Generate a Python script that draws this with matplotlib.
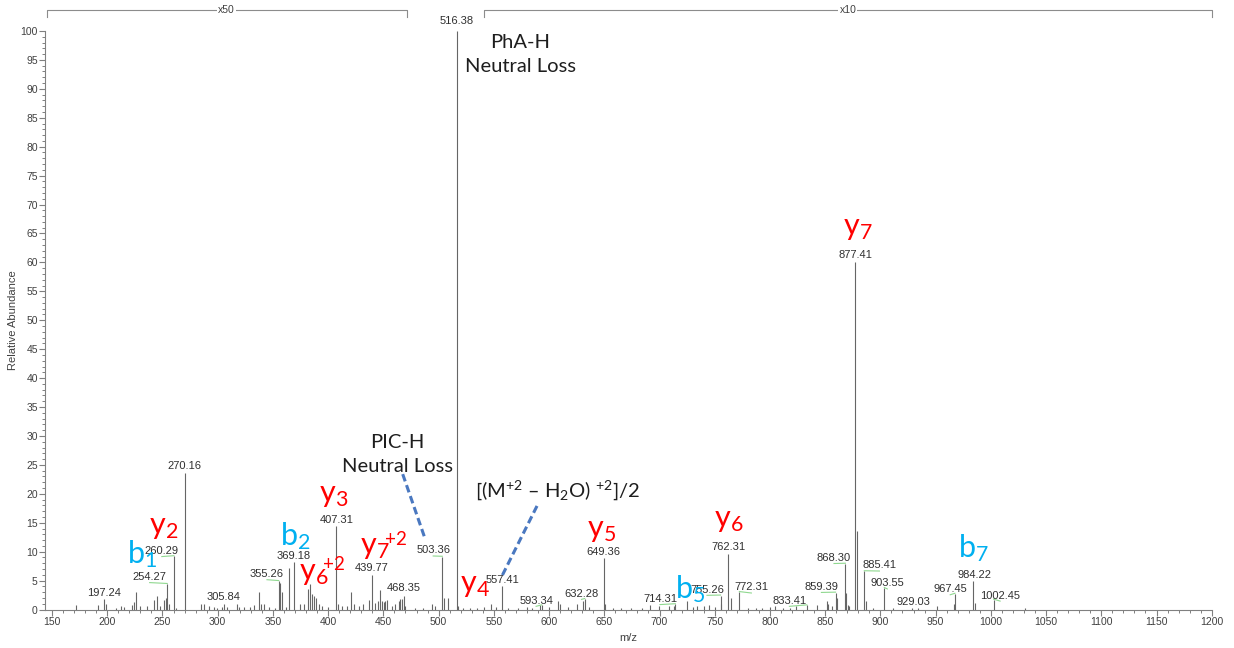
import matplotlib
matplotlib.use('Agg')
import matplotlib.pyplot as plt
import matplotlib.transforms as mtransforms
from matplotlib.ticker import MultipleLocator

# ---------------- data ----------------
peak_mz = [171.9, 191.5, 197.24, 199.3, 207.5, 212.0, 215.6, 222.0, 224.0, 226.2,
           230.0, 236.0, 242.0, 244.6, 248.0, 251.8, 253.0, 254.27, 255.7, 260.29,
           261.8, 270.16, 285.0, 287.4, 292.0, 296.4, 299.5, 304.0, 305.84, 308.5,
           317.6, 319.0, 323.6, 329.6, 332.6, 337.2, 339.6, 341.7, 346.0, 352.0,
           355.26, 356.8, 358.0, 362.0, 365.0, 369.18, 374.9, 378.5, 381.5, 383.3,
           385.5, 387.0, 389.4, 391.5, 394.5, 400.0, 407.31, 408.7, 412.6, 417.0,
           421.0, 423.0, 427.6, 432.0, 436.7, 439.77, 442.8, 445.2, 446.7, 448.8,
           450.3, 451.8, 453.4, 457.9, 460.9, 463.9, 465.4, 466.9, 468.35, 470.0,
           479.0, 486.0, 494.0, 497.0, 503.36, 504.6, 508.2, 516.38, 517.6, 522.0,
           528.0, 535.0, 541.0, 547.7, 552.0, 557.41, 563.0, 572.0, 580.0, 585.0,
           592.0, 593.34, 600.0, 608.0, 610.0, 617.0, 625.3, 630.7, 632.28, 636.0,
           649.36, 650.9, 658.0, 665.0, 674.0, 684.0, 691.6, 699.2, 708.2, 712.7,
           714.31, 724.9, 730.0, 734.0, 740.0, 744.4, 750.0, 755.26, 756.0, 762.31,
           764.7, 772.31, 780.0, 787.0, 793.0, 800.0, 804.8, 812.0, 818.0, 824.0,
           833.41, 842.5, 851.5, 853.0, 856.0, 859.39, 861.1, 868.30, 869.0, 871.0,
           872.0, 877.41, 878.41, 885.41, 887.1, 893.0, 903.55, 911.0, 929.03, 934.0,
           951.0, 966.6, 967.45, 984.22, 985.5, 1002.45, 1031.0]
peak_int = [0.8, 0.7, 1.8, 0.9, 0.3, 0.6, 0.4, 0.7, 1.3, 3.0,
            0.6, 0.6, 1.6, 2.3, 0.6, 1.7, 2.0, 4.4, 0.9, 9.2,
            0.3, 23.6, 0.9, 0.9, 0.6, 0.4, 0.3, 0.4, 0.9, 0.4,
            1.0, 0.5, 0.5, 0.5, 0.8, 3.0, 0.9, 0.9, 0.4, 0.3,
            4.9, 4.6, 3.1, 0.5, 7.2, 8.2, 0.9, 1.0, 3.6, 4.4,
            2.6, 2.4, 2.0, 0.9, 0.6, 0.4, 14.5, 0.9, 0.6, 0.6,
            3.0, 0.9, 0.6, 0.9, 1.6, 5.9, 1.2, 1.4, 3.3, 1.4,
            1.3, 1.4, 1.6, 0.6, 1.0, 1.5, 1.8, 1.8, 2.4, 0.6,
            0.3, 0.3, 0.9, 0.6, 9.1, 2.0, 2.0, 100.0, 0.6, 0.3,
            0.3, 0.3, 0.4, 0.9, 0.4, 4.0, 0.3, 0.3, 0.4, 0.3,
            0.8, 0.7, 0.4, 1.4, 0.9, 0.4, 1.0, 1.4, 1.8, 0.4,
            8.9, 0.9, 0.3, 0.3, 0.3, 0.3, 0.8, 0.6, 0.6, 0.6,
            0.9, 1.4, 0.4, 0.6, 0.6, 0.8, 0.4, 2.4, 0.9, 9.6,
            2.0, 3.0, 0.3, 0.3, 0.3, 0.4, 0.6, 0.3, 0.3, 0.6,
            0.7, 0.8, 1.4, 0.9, 0.6, 2.9, 2.0, 7.9, 2.9, 0.8,
            0.6, 60.0, 13.6, 6.6, 1.5, 0.3, 3.7, 0.3, 0.3, 0.3,
            0.6, 1.0, 2.7, 4.9, 1.2, 1.7, 0.3]

labeled_mz = [197.24, 254.27, 260.29, 270.16, 305.84, 355.26, 369.18, 407.31,
              439.77, 468.35, 503.36, 516.38, 557.41, 593.34, 632.28, 649.36,
              714.31, 755.26, 762.31, 772.31, 833.41, 859.39, 868.30, 877.41,
              885.41, 903.55, 929.03, 967.45, 984.22, 1002.45]

ion_letters = ['b', 'y', 'b', 'y', 'y', 'y', 'y', 'y', 'b', 'y', 'y', 'b']
ion_numbers = ['1', '2', '2', '6', '3', '7', '4', '5', '5', '6', '7', '7']
ion_charges = ['', '', '', '+2', '', '+2', '', '', '', '', '', '']

magnify_labels = ['x50', 'x10']
magnify_ranges = [(145, 471), (541, 1200)]

# ---------------- layout (positions of labels, data units) ----------------
label_xy = [(196.9, 2.4), (238.4, 5.1), (249.4, 9.6), (270.1, 24.3), (305.7, 1.7),
            (344.6, 5.6), (369.0, 8.7), (407.3, 15.0), (439.8, 6.7), (468.8, 3.2),
            (495.1, 9.7), (516.2, 101.2), (557.9, 4.6), (588.3, 1.0), (629.4, 2.2),
            (649.4, 9.5), (700.4, 1.3), (743.0, 2.9), (762.5, 10.3), (783.2, 3.3),
            (817.6, 1.0), (846.6, 3.4), (858.0, 8.4), (877.5, 60.8), (899.1, 7.1),
            (906.3, 4.0), (930.0, 0.75), (963.2, 3.0), (985.3, 5.5), (1008.4, 1.9)]

ion_xy = [(218.1, 8.0), (237.6, 13.1), (356.8, 11.2), (373.4, 5.1), (391.5, 18.5),
          (428.6, 9.6), (519.1, 3.0), (634.4, 12.6), (714.3, 2.0), (749.0, 14.2),
          (866.0, 64.7), (970.1, 9.1)]
charge_xy = [None, None, None, (395.4, 6.9), None, (451.8, 11.2),
             None, None, None, None, None, None]

RED = '#ff0000'
BLUE = '#00b0f0'
ANNOT_FONT = 'Lato'
NUM_FONT = 'Liberation Sans'

plt.rcParams['mathtext.fontset'] = 'custom'
plt.rcParams['mathtext.rm'] = ANNOT_FONT
plt.rcParams['mathtext.it'] = ANNOT_FONT + ':italic'
plt.rcParams['mathtext.bf'] = ANNOT_FONT + ':bold'

fig = plt.figure(figsize=(12.34, 6.48), dpi=100)
ax = fig.add_axes([45.4 / 1234, 1 - 609.5 / 648, (1211.75 - 45.4) / 1234, 578.5 / 648])

ax.vlines(peak_mz, 0, peak_int, colors='#666666', lw=0.8)

ax.set_xlim(144, 1200)
ax.set_ylim(0, 100)

for s in ['top', 'right']:
    ax.spines[s].set_visible(False)
for s in ['left', 'bottom']:
    ax.spines[s].set_color('#808080')
    ax.spines[s].set_linewidth(0.8)

ax.xaxis.set_major_locator(MultipleLocator(50))
ax.xaxis.set_minor_locator(MultipleLocator(10))
ax.yaxis.set_major_locator(MultipleLocator(5))
ax.yaxis.set_minor_locator(MultipleLocator(1))
ax.tick_params(which='major', direction='out', length=4, width=0.8, color='#808080',
               labelsize=7.5, labelcolor='#404040', pad=1.5)
ax.tick_params(which='minor', direction='out', length=2.2, width=0.7, color='#808080')
for lab in ax.get_xticklabels() + ax.get_yticklabels():
    lab.set_fontfamily(NUM_FONT)

ax.set_xlabel('m/z', fontsize=8, family=NUM_FONT, color='#404040', labelpad=4)
ax.set_ylabel('Relative Abundance', fontsize=8, family=NUM_FONT, color='#404040', labelpad=1.5)

# peak value labels with leader lines
lookup = dict(zip(peak_mz, peak_int))
for mz, (lx, ly) in zip(labeled_mz, label_xy):
    ax.text(lx, ly, f'{mz:.2f}', ha='center', va='baseline', fontsize=8,
            family=NUM_FONT, color='#303030', clip_on=False)
    if abs(lx - mz) > 2.5:
        ax.plot([mz, lx], [lookup[mz] + 0.1, ly - 0.45], color='#8fd88f', lw=0.8)

# ion annotations
for letter, num, chg, (x, y), cxy in zip(ion_letters, ion_numbers, ion_charges, ion_xy, charge_xy):
    color = RED if letter == 'y' else BLUE
    ax.text(x, y, r'$\mathregular{' + letter + '_{' + num + '}}$', color=color,
            fontsize=22, family=ANNOT_FONT, ha='left', va='baseline')
    if chg:
        ax.text(cxy[0], cxy[1], chg, color=color, fontsize=13.5, family=ANNOT_FONT,
                ha='left', va='baseline')

# neutral loss annotations
ax.text(574, 92.9, 'PhA-H\nNeutral Loss', ha='center', va='baseline', fontsize=14.5,
        family=ANNOT_FONT, color='#1e1e1e', linespacing=1.5)
ax.text(462.7, 23.7, 'PIC-H\nNeutral Loss', ha='center', va='baseline', fontsize=14.5,
        family=ANNOT_FONT, color='#1e1e1e', linespacing=1.5)
ax.text(533.2, 19.6, r'[(M$\mathregular{^{+2}}$ – H$\mathregular{_2}$O) $\mathregular{^{+2}}$]/2',
        ha='left', va='baseline', fontsize=14.5, family=ANNOT_FONT, color='#1e1e1e')
ax.plot([467.5, 488.0], [23.4, 12.1], color='#4a78c0', lw=2.2, ls=(0, (2.5, 1.3)))
ax.plot([589.1, 557.4], [17.9, 5.8], color='#4a78c0', lw=2.2, ls=(0, (2.5, 1.3)))

# magnification brackets
trans = mtransforms.blended_transform_factory(ax.transData, ax.transAxes)
for lab, (a, b) in zip(magnify_labels, magnify_ranges):
    ax.plot([a, a, b, b], [1.024, 1.036, 1.036, 1.024], transform=trans, clip_on=False,
            color='#8c8c8c', lw=0.8)
    ax.text((a + b) / 2, 1.036, lab, transform=trans, ha='center', va='center',
            fontsize=7.5, family=NUM_FONT, color='#404040',
            bbox=dict(facecolor='white', edgecolor='none', pad=0.8))

fig.savefig('out.png', dpi=100)
